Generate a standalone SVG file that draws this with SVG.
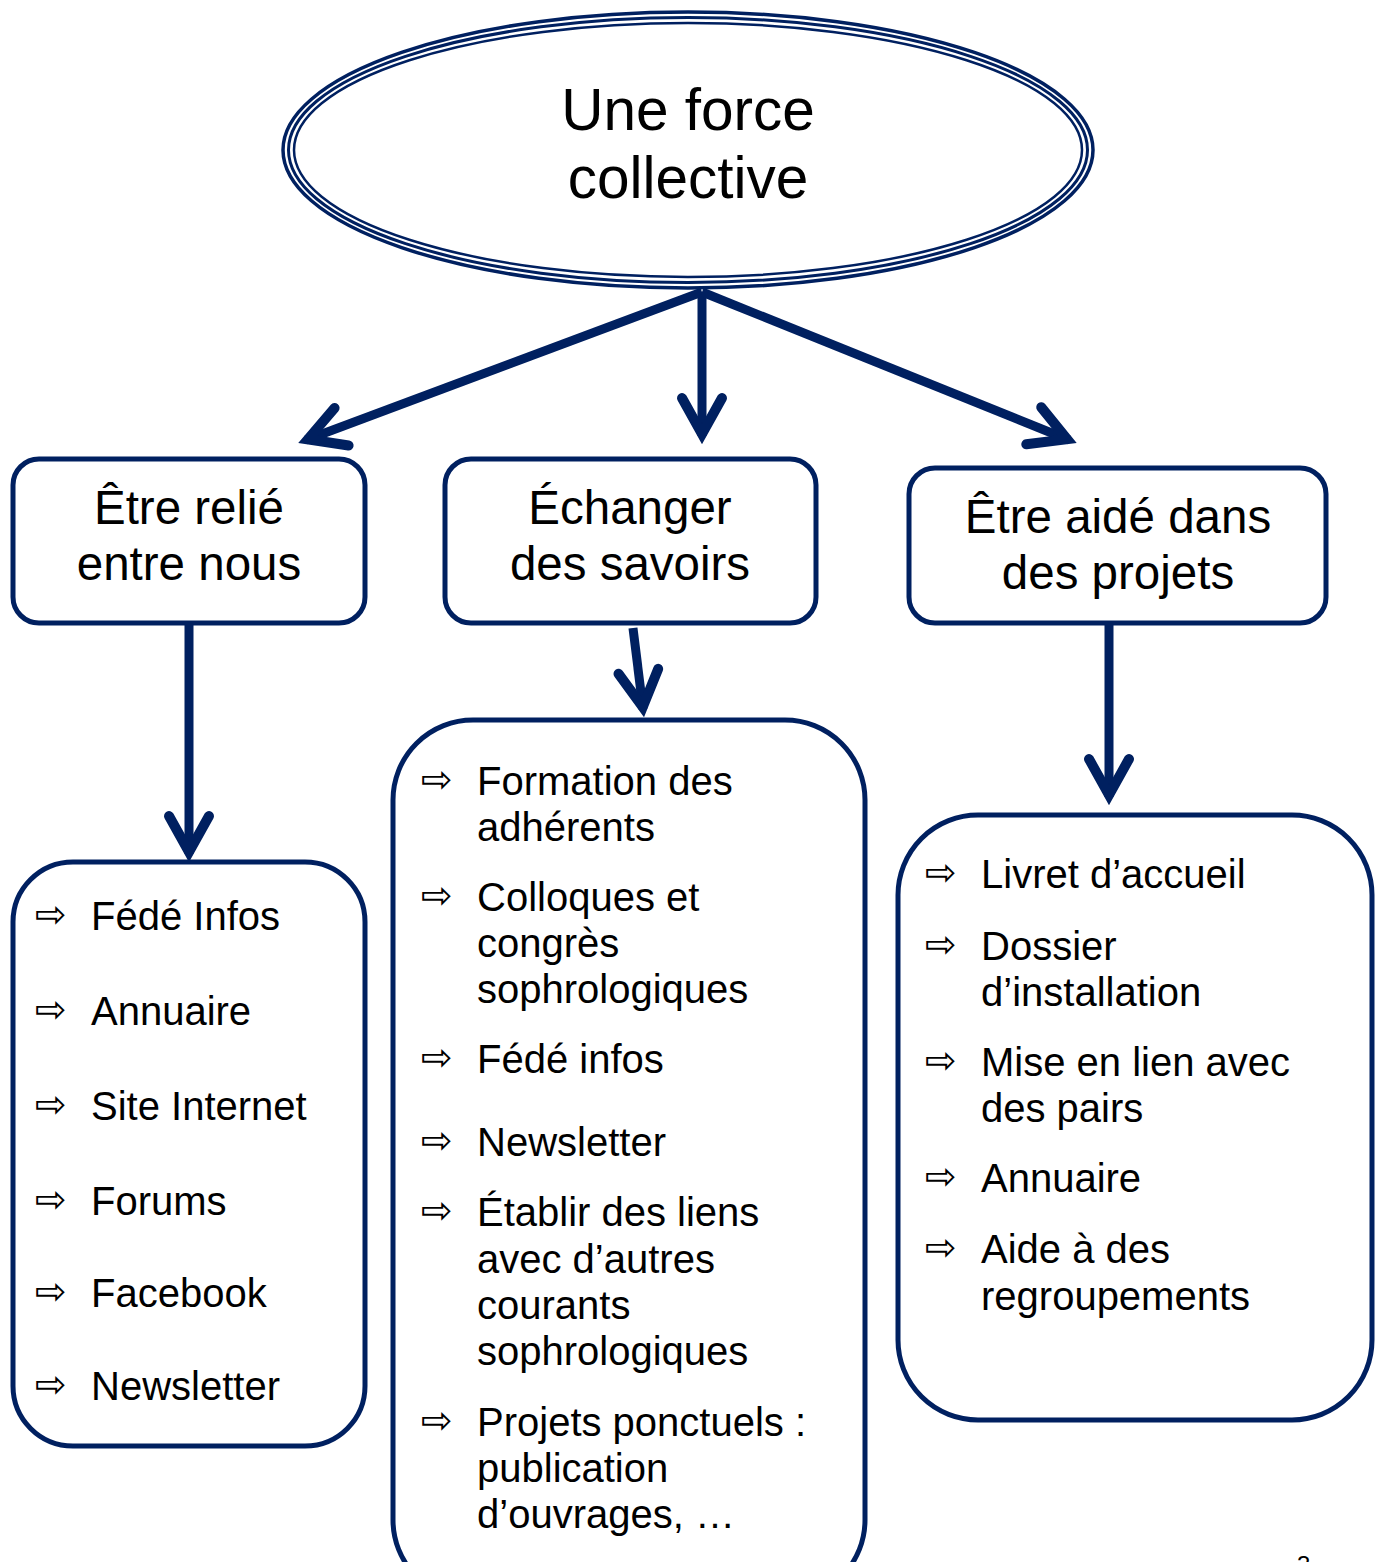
<svg xmlns="http://www.w3.org/2000/svg" width="1379" height="1562" viewBox="0 0 1379 1562">
<style>
.box{fill:#fff;stroke:#002060;stroke-width:5}
.ell{fill:none;stroke:#002060}
.h{font-family:"Liberation Sans",Arial,sans-serif;font-size:47.5px;fill:#000;text-anchor:middle}
.t{font-family:"Liberation Sans",Arial,sans-serif;font-size:40px;fill:#000}
.b{font-family:"DejaVu Sans",sans-serif;font-size:38px;fill:#000}
.c{fill:none;stroke:#002060;stroke-width:9}
</style>
<defs>
<marker id="ah" markerUnits="userSpaceOnUse" orient="auto" markerWidth="60" markerHeight="60" viewBox="-50 -30 60 60" refX="0" refY="0" overflow="visible">
<path d="M-38,-20 L-2,0 L-38,20" fill="none" stroke="#002060" stroke-width="10" stroke-linecap="round" stroke-linejoin="miter"/>
</marker>
</defs>
<rect width="1379" height="1562" fill="#fff"/>

<g id="connectors">
<line class="c" x1="702" y1="292" x2="306" y2="440" marker-end="url(#ah)"/>
<line class="c" x1="702" y1="292" x2="702" y2="436" marker-end="url(#ah)"/>
<line class="c" x1="702" y1="292" x2="1069" y2="440" marker-end="url(#ah)"/>
<line class="c" x1="189" y1="623" x2="189" y2="854" marker-end="url(#ah)"/>
<line class="c" x1="633" y1="628" x2="643" y2="709" marker-end="url(#ah)"/>
<line class="c" x1="1109" y1="623" x2="1109" y2="797" marker-end="url(#ah)"/>
</g>

<g id="root">
<ellipse class="ell" cx="688" cy="150" rx="405" ry="138" stroke-width="3.5"/>
<ellipse class="ell" cx="688" cy="150" rx="399.5" ry="132.5" stroke-width="3"/>
<ellipse class="ell" cx="688" cy="150" rx="394" ry="127" stroke-width="2.5"/>
<text class="h" style="font-size:58.5px" x="688" y="130">Une force</text>
<text class="h" style="font-size:58.5px" x="688" y="198">collective</text>
</g>

<g id="n1">
<rect class="box" x="13" y="459" width="352" height="164" rx="26"/>
<text class="h" x="189" y="524">Être relié</text>
<text class="h" x="189" y="580">entre nous</text>
</g>
<g id="n2">
<rect class="box" x="445" y="459" width="371" height="164" rx="26"/>
<text class="h" x="630" y="524">Échanger</text>
<text class="h" x="630" y="580">des savoirs</text>
</g>
<g id="n3">
<rect class="box" x="909" y="468" width="417" height="155" rx="26"/>
<text class="h" x="1118" y="533">Être aidé dans</text>
<text class="h" x="1118" y="589">des projets</text>
</g>

<g id="l1">
<rect class="box" x="13" y="862" width="352" height="584" rx="60"/>
<text class="b" x="35" y="927">⇨</text><text class="t" x="91" y="930">Fédé Infos</text>
<text class="b" x="35" y="1022">⇨</text><text class="t" x="91" y="1025">Annuaire</text>
<text class="b" x="35" y="1117">⇨</text><text class="t" x="91" y="1120">Site Internet</text>
<text class="b" x="35" y="1212">⇨</text><text class="t" x="91" y="1215">Forums</text>
<text class="b" x="35" y="1304">⇨</text><text class="t" x="91" y="1307">Facebook</text>
<text class="b" x="35" y="1397">⇨</text><text class="t" x="91" y="1400">Newsletter</text>
</g>

<g id="l2">
<rect class="box" x="393" y="720" width="472" height="880" rx="80"/>
<text class="b" x="421" y="792">⇨</text><text class="t" x="477" y="795">Formation des</text>
<text class="t" x="477" y="841">adhérents</text>
<text class="b" x="421" y="908">⇨</text><text class="t" x="477" y="911">Colloques et</text>
<text class="t" x="477" y="957">congrès</text>
<text class="t" x="477" y="1003">sophrologiques</text>
<text class="b" x="421" y="1070">⇨</text><text class="t" x="477" y="1073">Fédé infos</text>
<text class="b" x="421" y="1153">⇨</text><text class="t" x="477" y="1156">Newsletter</text>
<text class="b" x="421" y="1223">⇨</text><text class="t" x="477" y="1226">Établir des liens</text>
<text class="t" x="477" y="1273">avec d’autres</text>
<text class="t" x="477" y="1319">courants</text>
<text class="t" x="477" y="1365">sophrologiques</text>
<text class="b" x="421" y="1433">⇨</text><text class="t" x="477" y="1436">Projets ponctuels :</text>
<text class="t" x="477" y="1482">publication</text>
<text class="t" x="477" y="1528">d’ouvrages, …</text>
</g>

<g id="l3">
<rect class="box" x="898" y="815" width="474" height="605" rx="80"/>
<text class="b" x="925" y="885">⇨</text><text class="t" x="981" y="888">Livret d’accueil</text>
<text class="b" x="925" y="957">⇨</text><text class="t" x="981" y="960">Dossier</text>
<text class="t" x="981" y="1006">d’installation</text>
<text class="b" x="925" y="1073">⇨</text><text class="t" x="981" y="1076">Mise en lien avec</text>
<text class="t" x="981" y="1122">des pairs</text>
<text class="b" x="925" y="1189">⇨</text><text class="t" x="981" y="1192">Annuaire</text>
<text class="b" x="925" y="1260">⇨</text><text class="t" x="981" y="1263">Aide à des</text>
<text class="t" x="981" y="1310">regroupements</text>
</g>

<text x="1297" y="1573" style="font-family:'Liberation Sans',Arial,sans-serif;font-size:24px;fill:#000">3</text>
</svg>
